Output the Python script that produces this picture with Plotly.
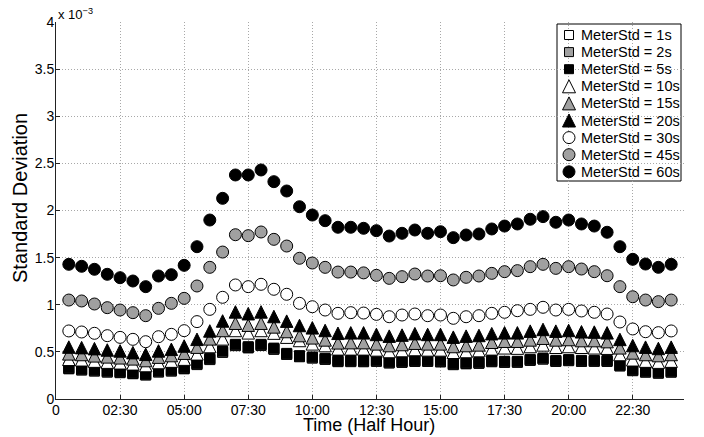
import numpy as np
import plotly.graph_objects as go

# ---------------- data (values in units of 1e-3) ----------------
half_hour = list(range(1, 49))

x_tick_vals = [0, 5, 10, 15, 20, 25, 30, 35, 40, 45]
x_tick_text = ["0", "02:30", "05:00", "07:30", "10:00", "12:30", "15:00", "17:30", "20:00", "22:30"]
y_tick_vals = [0, 0.5, 1, 1.5, 2, 2.5, 3, 3.5, 4]
y_tick_text = ["0", "0.5", "1", "1.5", "2", "2.5", "3", "3.5", "4"]

s1 = [0.320, 0.307, 0.296, 0.285, 0.279, 0.268, 0.254, 0.286, 0.296, 0.320, 0.365, 0.418,
      0.495, 0.566, 0.542, 0.567, 0.527, 0.472, 0.448, 0.434, 0.420, 0.396, 0.396, 0.395,
      0.399, 0.382, 0.388, 0.398, 0.398, 0.393, 0.364, 0.373, 0.378, 0.395, 0.388, 0.389,
      0.409, 0.423, 0.398, 0.406, 0.398, 0.399, 0.398, 0.350, 0.300, 0.284, 0.273, 0.284]
s2 = [0.324, 0.311, 0.300, 0.289, 0.283, 0.271, 0.258, 0.289, 0.300, 0.324, 0.369, 0.422,
      0.499, 0.570, 0.546, 0.571, 0.531, 0.475, 0.452, 0.438, 0.424, 0.399, 0.400, 0.399,
      0.403, 0.385, 0.392, 0.402, 0.402, 0.397, 0.368, 0.377, 0.382, 0.399, 0.392, 0.392,
      0.413, 0.426, 0.402, 0.410, 0.402, 0.402, 0.402, 0.354, 0.304, 0.288, 0.277, 0.288]
s5 = [0.332, 0.318, 0.308, 0.297, 0.290, 0.279, 0.265, 0.297, 0.308, 0.332, 0.378, 0.431,
      0.509, 0.580, 0.555, 0.580, 0.540, 0.484, 0.460, 0.446, 0.432, 0.407, 0.407, 0.407,
      0.411, 0.393, 0.400, 0.410, 0.410, 0.405, 0.375, 0.385, 0.390, 0.407, 0.400, 0.400,
      0.421, 0.435, 0.410, 0.418, 0.410, 0.410, 0.410, 0.361, 0.311, 0.295, 0.284, 0.295]
s10 = [0.421, 0.416, 0.402, 0.391, 0.384, 0.373, 0.355, 0.387, 0.402, 0.423, 0.479, 0.557,
       0.638, 0.727, 0.702, 0.727, 0.699, 0.656, 0.621, 0.585, 0.567, 0.532, 0.532, 0.532,
       0.521, 0.504, 0.514, 0.525, 0.521, 0.521, 0.496, 0.504, 0.514, 0.532, 0.543, 0.540,
       0.557, 0.574, 0.549, 0.557, 0.549, 0.543, 0.539, 0.472, 0.416, 0.402, 0.391, 0.402]
s15 = [0.479, 0.472, 0.458, 0.447, 0.437, 0.426, 0.408, 0.444, 0.461, 0.486, 0.550, 0.638,
       0.727, 0.804, 0.783, 0.804, 0.765, 0.716, 0.673, 0.649, 0.627, 0.596, 0.598, 0.598,
       0.585, 0.567, 0.578, 0.592, 0.585, 0.585, 0.557, 0.567, 0.574, 0.602, 0.613, 0.613,
       0.627, 0.645, 0.627, 0.631, 0.620, 0.620, 0.609, 0.543, 0.489, 0.472, 0.461, 0.472]
s20 = [0.551, 0.545, 0.534, 0.520, 0.510, 0.492, 0.474, 0.510, 0.527, 0.562, 0.633, 0.722,
       0.828, 0.924, 0.905, 0.924, 0.875, 0.826, 0.780, 0.755, 0.727, 0.697, 0.702, 0.702,
       0.685, 0.667, 0.678, 0.693, 0.685, 0.685, 0.656, 0.667, 0.674, 0.693, 0.702, 0.702,
       0.720, 0.738, 0.720, 0.727, 0.713, 0.710, 0.702, 0.632, 0.567, 0.550, 0.536, 0.550]
s30 = [0.722, 0.711, 0.697, 0.672, 0.654, 0.633, 0.608, 0.661, 0.686, 0.725, 0.821, 0.951,
       1.079, 1.210, 1.192, 1.217, 1.164, 1.111, 1.015, 0.979, 0.944, 0.909, 0.916, 0.912,
       0.898, 0.873, 0.891, 0.902, 0.884, 0.891, 0.856, 0.873, 0.884, 0.909, 0.920, 0.937,
       0.951, 0.973, 0.944, 0.951, 0.934, 0.920, 0.902, 0.817, 0.743, 0.714, 0.704, 0.722]
s45 = [1.050, 1.040, 1.008, 0.969, 0.944, 0.916, 0.884, 0.962, 1.015, 1.068, 1.199, 1.397,
       1.559, 1.743, 1.733, 1.772, 1.694, 1.623, 1.493, 1.443, 1.397, 1.347, 1.347, 1.338,
       1.312, 1.280, 1.298, 1.326, 1.305, 1.308, 1.263, 1.291, 1.305, 1.333, 1.351, 1.362,
       1.404, 1.429, 1.386, 1.404, 1.379, 1.351, 1.308, 1.192, 1.085, 1.050, 1.033, 1.050]
s60 = [1.429, 1.408, 1.376, 1.323, 1.287, 1.252, 1.192, 1.305, 1.319, 1.418, 1.616, 1.899,
       2.129, 2.377, 2.377, 2.430, 2.306, 2.207, 2.040, 1.952, 1.892, 1.822, 1.822, 1.811,
       1.786, 1.729, 1.758, 1.793, 1.758, 1.775, 1.712, 1.740, 1.751, 1.804, 1.835, 1.857,
       1.907, 1.935, 1.875, 1.899, 1.857, 1.835, 1.769, 1.616, 1.482, 1.432, 1.397, 1.429]

series_names = ["MeterStd = 1s", "MeterStd = 2s", "MeterStd = 5s", "MeterStd = 10s",
                "MeterStd = 15s", "MeterStd = 20s", "MeterStd = 30s", "MeterStd = 45s",
                "MeterStd = 60s"]
series_values = [s1, s2, s5, s10, s15, s20, s30, s45, s60]

x_title = "Time (Half Hour)"
y_title = "Standard Deviation"

SCALE = 1e-3

# ---------------- styling ----------------
W, H = 704, 437
ML, MR, MT, MB = 56, 20, 22, 38
PW, PH = W - ML - MR, H - MT - MB
Y_MAX = 4 * SCALE
GRAY = "#a0a0a0"
FONT = "Liberation Sans, Arial, sans-serif"

kinds = ["square", "square", "square", "tri", "tri", "tri", "circle", "circle", "circle"]
fills = ["white", GRAY, "black"] * 3
SQ, TRI, CIR = 10, 12.5, 12
axis_for = {"square": "y", "tri": "y2", "circle": "y3"}
symbol_for = {"square": "square", "tri": "arrow-up", "circle": "circle"}
size_for = {"square": SQ, "tri": TRI, "circle": CIR}

fig = go.Figure()
for name, vals, kind, fill in zip(series_names, series_values, kinds, fills):
    fig.add_trace(go.Scatter(
        x=half_hour, y=np.array(vals) * SCALE, mode="markers", name=name,
        yaxis=axis_for[kind], showlegend=False, cliponaxis=False,
        marker=dict(symbol=symbol_for[kind], size=size_for[kind], color=fill,
                    line=dict(color="black", width=1)),
    ))

# arrow-up markers have their apex at the data point: shift their axis so the
# triangle is centred on the value (half marker height in data units)
d = (TRI / 2) * (Y_MAX / PH)


def px2paper_x(px):
    return (px - ML) / PW


def px2paper_y(py):
    return (H - MB - py) / PH


# ---------------- manual legend (pixel coordinates) ----------------
leg_x0, leg_x1, leg_y0, leg_y1 = 557, 681, 24, 181
row_c = [35 + 17.1 * i for i in range(9)]
sym_x = 569
leg_sizes = {"square": 9, "tri": 13, "circle": 12}
for i, (name, kind, fill) in enumerate(zip(series_names, kinds, fills)):
    s = leg_sizes[kind]
    yy = row_c[i] - (s / 2 if kind == "tri" else 0)
    fig.add_trace(go.Scatter(
        x=[sym_x], y=[yy], xaxis="x2", yaxis="y4", mode="markers", showlegend=False,
        hoverinfo="skip", cliponaxis=False,
        marker=dict(symbol=symbol_for[kind], size=s, color=fill,
                    line=dict(color="black", width=1)),
    ))
    fig.add_annotation(x=px2paper_x(579), y=px2paper_y(row_c[i]), xref="paper", yref="paper",
                       text=name, showarrow=False, xanchor="left", yanchor="middle",
                       font=dict(family=FONT, size=14.5, color="black"))

fig.add_shape(type="rect", xref="paper", yref="paper",
              x0=px2paper_x(leg_x0), x1=px2paper_x(leg_x1),
              y0=px2paper_y(leg_y1), y1=px2paper_y(leg_y0),
              line=dict(color="black", width=1), fillcolor="white", layer="between")

# exponent label
fig.add_annotation(x=0, y=1, xref="paper", yref="paper", xanchor="left", yanchor="bottom",
                   text="x 10<sup>−3</sup>", showarrow=False, xshift=0, yshift=-2,
                   font=dict(family=FONT, size=13, color="black"))

# axis titles
fig.add_annotation(x=px2paper_x(369), y=px2paper_y(425), xref="paper", yref="paper",
                   xanchor="center", yanchor="middle", text=x_title, showarrow=False,
                   font=dict(family=FONT, size=18, color="black"))
fig.add_annotation(x=px2paper_x(20), y=px2paper_y(198), xref="paper", yref="paper",
                   xanchor="center", yanchor="middle", text=y_title, showarrow=False,
                   textangle=-90, font=dict(family=FONT, size=20, color="black"))

axis_common = dict(
    showline=True, linecolor="#222222", linewidth=1, mirror=False,
    ticks="inside", ticklen=4, tickcolor="#222222", tickwidth=1,
    showgrid=True, gridcolor="#a8a8a8", griddash="1px,2px", gridwidth=1,
    zeroline=False, tickfont=dict(family=FONT, size=14, color="black"),
)

fig.update_layout(
    width=W, height=H, margin=dict(l=ML, r=MR, t=MT, b=MB, autoexpand=False),
    plot_bgcolor="white", paper_bgcolor="white", showlegend=False,
    font=dict(family=FONT, color="black"),
    xaxis=dict(range=[0, 49], tickvals=x_tick_vals, ticktext=x_tick_text,
               ticklabelstandoff=-2, **axis_common),
    yaxis=dict(range=[0, Y_MAX], tickvals=[v * SCALE for v in y_tick_vals], ticktext=y_tick_text,
               ticklabelstandoff=-2, **axis_common),
    yaxis2=dict(overlaying="y", range=[-d, Y_MAX - d], visible=False, showgrid=False),
    yaxis3=dict(overlaying="y", range=[0, Y_MAX], visible=False, showgrid=False),
    xaxis2=dict(overlaying="x", range=[ML, ML + PW], visible=False, showgrid=False, anchor="y4"),
    yaxis4=dict(overlaying="y", range=[H - MB, MT], visible=False, showgrid=False, anchor="x2"),
)

fig.write_html("out.html", config={"displayModeBar": False},
               post_script="document.body.style.margin='0';document.body.style.overflow='hidden';")
